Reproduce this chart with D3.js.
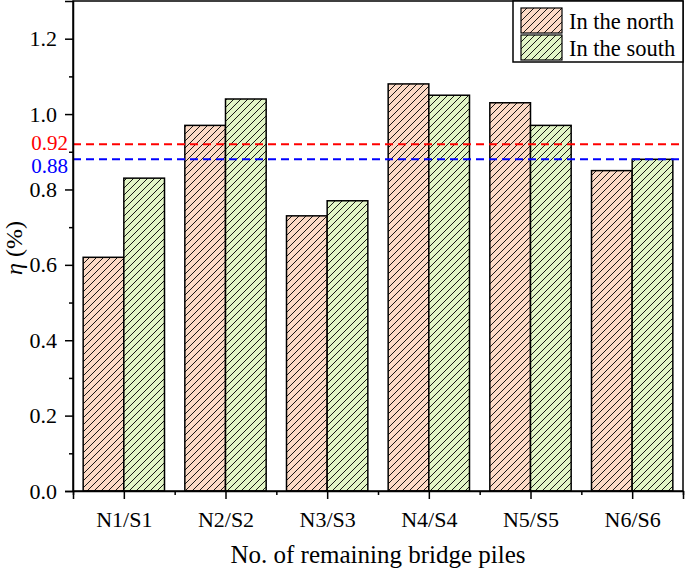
<!DOCTYPE html>
<meta charset="utf-8">
<style>
body { margin: 0; background: #fff; }
svg text { font-family: "Liberation Serif", "DejaVu Serif", "Times New Roman", Times, serif; }
</style>
<body>
<div id="chart"></div>
<script src="https://d3js.org/d3.v7.min.js"></script>
<script>

var categories = ["N1/S1", "N2/S2", "N3/S3", "N4/S4", "N5/S5", "N6/S6"];
var north = [0.62, 0.97, 0.73, 1.08, 1.03, 0.85];
var south = [0.83, 1.04, 0.77, 1.05, 0.97, 0.88];
var yTicks = [0.0, 0.2, 0.4, 0.6, 0.8, 1.0, 1.2];
var refLines = [{v: 0.92, color: "#ff0000", shift: -2}, {v: 0.88, color: "#0000ff", shift: 6}];
var seriesNames = ["In the north", "In the south"];
var seriesColors = ["#fcdac6", "#e2f5c6"];

var W = 685, H = 571;
var FONT = "'Liberation Serif', 'DejaVu Serif', 'Times New Roman', serif";
var margin = {top: 1, right: 2, bottom: 80, left: 73};
var width = W - margin.left - margin.right,
    height = H - margin.top - margin.bottom;

var svg = d3.select("#chart").append("svg")
    .attr("width", W).attr("height", H)
    .attr("font-family", FONT);

// hatch patterns
var defs = svg.append("defs");
seriesColors.forEach(function(c, i) {
  var p = defs.append("pattern")
      .attr("id", "hatch" + i)
      .attr("patternUnits", "userSpaceOnUse")
      .attr("width", 7).attr("height", 7);
  p.append("rect").attr("width", 7).attr("height", 7).attr("fill", c);
  p.append("path")
      .attr("d", "M-1,8 L8,-1 M-4,4 L4,-4 M3,11 L11,3")
      .attr("stroke", "#000").attr("stroke-width", 0.9);
});

var g = svg.append("g")
    .attr("transform", "translate(" + margin.left + "," + margin.top + ")");

var x = d3.scaleLinear().domain([0.5, 6.5]).range([0, width]);
var y = d3.scaleLinear().domain([0, 1.3]).range([height, 0]);

// bars
var barW = 0.4;
[north, south].forEach(function(vals, s) {
  g.selectAll(".bar" + s).data(vals).enter().append("rect")
      .attr("x", function(d, i) { return x(i + 1 - barW + s * barW); })
      .attr("width", x(barW) - x(0))
      .attr("y", function(d) { return y(d); })
      .attr("height", function(d) { return y(0) - y(d); })
      .attr("fill", "url(#hatch" + s + ")")
      .attr("stroke", "#000").attr("stroke-width", 1.5);
});

// reference lines
refLines.forEach(function(r) {
  g.append("line")
      .attr("x1", 0).attr("x2", width)
      .attr("y1", y(r.v)).attr("y2", y(r.v))
      .attr("stroke", r.color).attr("stroke-width", 2)
      .attr("stroke-dasharray", "8,5");
  g.append("text")
      .attr("x", -5).attr("y", y(r.v) + r.shift).attr("dy", "0.35em")
      .attr("text-anchor", "end")
      .attr("fill", r.color).style("font-size", "21px")
      .text(r.v.toFixed(2));
});

// frame
g.append("rect").attr("width", width).attr("height", height)
    .attr("fill", "none").attr("stroke", "#000").attr("stroke-width", 1.5);

// y axis
g.append("g")
    .call(d3.axisLeft(y).tickValues(yTicks).tickFormat(d3.format(".1f")).tickSize(8).tickPadding(8));
g.append("g")
    .call(d3.axisLeft(y).tickValues(d3.range(0.1, 1.3, 0.2)).tickFormat("").tickSize(4))
    .select(".domain").remove();

// x axis
g.append("g").attr("transform", "translate(0," + height + ")")
    .call(d3.axisBottom(x).tickValues(d3.range(1, 7)).tickFormat(function(d) { return categories[d - 1]; }).tickSize(8).tickPadding(12));
g.append("g").attr("transform", "translate(0," + height + ")")
    .call(d3.axisBottom(x).tickValues(d3.range(0.5, 7, 1)).tickFormat("").tickSize(4))
    .select(".domain").remove();

g.selectAll(".tick line").attr("stroke-width", 1.5);
g.selectAll(".domain").attr("stroke-width", 1.5);
g.selectAll("g").attr("font-family", FONT);
g.selectAll(".tick text").style("font-size", "22px").attr("fill", "#000");

// axis titles
svg.append("text")
    .attr("x", margin.left + width / 2).attr("y", 563)
    .attr("text-anchor", "middle").style("font-size", "25px")
    .text("No. of remaining bridge piles");

var yt = svg.append("text")
    .attr("transform", "translate(22,248) rotate(-90)")
    .attr("text-anchor", "middle").style("font-size", "24px");
yt.append("tspan").style("font-style", "italic").text("η");
yt.append("tspan").text(" (%)");

// legend
var lg = svg.append("g").attr("transform", "translate(513,1)");
lg.append("rect").attr("width", 170).attr("height", 61)
    .attr("fill", "#fff").attr("stroke", "#000").attr("stroke-width", 1.5);
seriesNames.forEach(function(n, i) {
  lg.append("rect")
      .attr("x", 8).attr("y", 7 + i * 27)
      .attr("width", 41).attr("height", 25)
      .attr("fill", "url(#hatch" + i + ")")
      .attr("stroke", "#000").attr("stroke-width", 1.2);
  lg.append("text")
      .attr("x", 56).attr("y", 20 + i * 27).attr("dy", "0.35em")
      .style("font-size", "22.5px")
      .text(n);
});

</script>
</body>
